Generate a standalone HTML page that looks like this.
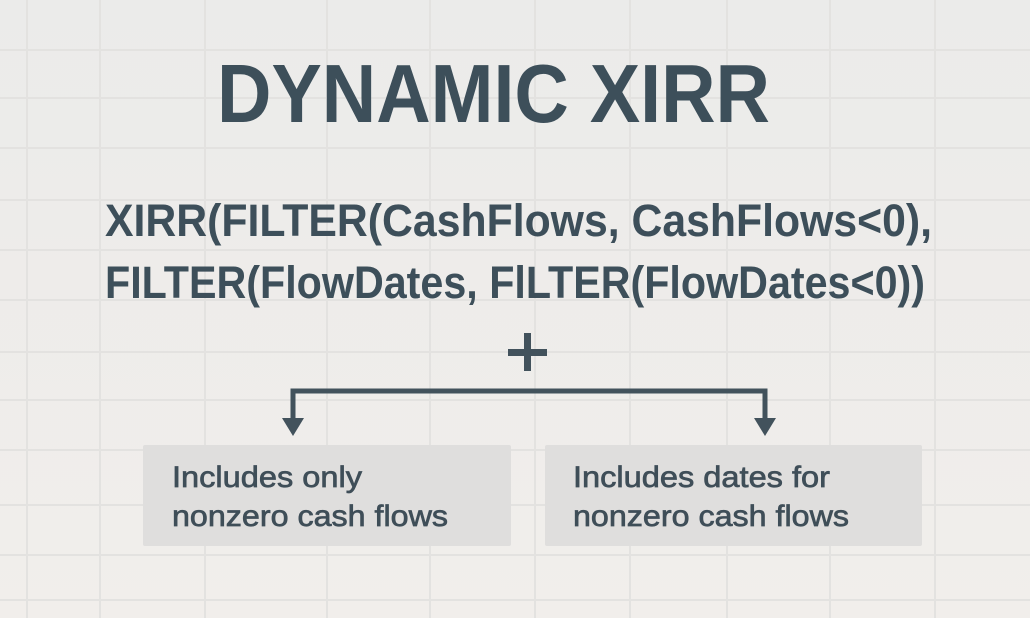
<!DOCTYPE html>
<html><head><meta charset="utf-8"><style>
html,body{margin:0;padding:0;background:#efedeb;}
svg{display:block;}
</style></head><body>
<svg width="1030" height="618" viewBox="0 0 1030 618" xmlns="http://www.w3.org/2000/svg">
<defs><linearGradient id="bg" x1="0" y1="0" x2="0" y2="1"><stop offset="0" stop-color="#ebebea"/><stop offset="1" stop-color="#f1eeeb"/></linearGradient></defs>
<rect width="1030" height="618" fill="url(#bg)"/>
<g stroke="#e3e2e0" stroke-width="2">
<line x1="27" y1="0" x2="27" y2="618"/><line x1="100" y1="0" x2="100" y2="618"/><line x1="205" y1="0" x2="205" y2="618"/><line x1="327" y1="0" x2="327" y2="618"/><line x1="430" y1="0" x2="430" y2="618"/><line x1="535" y1="0" x2="535" y2="618"/><line x1="630" y1="0" x2="630" y2="618"/><line x1="727" y1="0" x2="727" y2="618"/><line x1="830" y1="0" x2="830" y2="618"/><line x1="935" y1="0" x2="935" y2="618"/>
<line x1="0" y1="50" x2="1030" y2="50"/><line x1="0" y1="98" x2="1030" y2="98"/><line x1="0" y1="148" x2="1030" y2="148"/><line x1="0" y1="200" x2="1030" y2="200"/><line x1="0" y1="250" x2="1030" y2="250"/><line x1="0" y1="300" x2="1030" y2="300"/><line x1="0" y1="352" x2="1030" y2="352"/><line x1="0" y1="400" x2="1030" y2="400"/><line x1="0" y1="450" x2="1030" y2="450"/><line x1="0" y1="505" x2="1030" y2="505"/><line x1="0" y1="555" x2="1030" y2="555"/><line x1="0" y1="600" x2="1030" y2="600"/>
</g>
<g fill="#3d4f5a" font-family="Liberation Sans, sans-serif" font-weight="bold">
<text x="217" y="122" font-size="83" textLength="553" lengthAdjust="spacingAndGlyphs">DYNAMIC XIRR</text>
<text x="105" y="236" font-size="45" textLength="827" lengthAdjust="spacingAndGlyphs">XIRR(FILTER(CashFlows, CashFlows&lt;0),</text>
<text x="105" y="298" font-size="45" textLength="820" lengthAdjust="spacingAndGlyphs">FILTER(FlowDates, FlLTER(FlowDates&lt;0))</text>
</g>
<g fill="#42525c">
<rect x="524" y="333" width="7" height="38"/>
<rect x="508" y="349" width="39" height="7"/>
</g>
<g stroke="#42525c" stroke-width="5" fill="none">
<polyline points="293,422 293,391 765,391 765,422"/>
</g>
<g fill="#42525c">
<polygon points="282,418 304,418 293,436"/>
<polygon points="754,418 776,418 765,436"/>
</g>
<rect x="143" y="445" width="368" height="101" rx="2" fill="#dfdedd"/>
<rect x="545" y="445" width="377" height="101" rx="2" fill="#dfdedd"/>
<g fill="#3f4e58" stroke="#3f4e58" stroke-width="0.7" font-family="Liberation Sans, sans-serif" font-size="30">
<text x="172" y="487" textLength="190" lengthAdjust="spacingAndGlyphs">Includes only</text>
<text x="172" y="526" textLength="276" lengthAdjust="spacingAndGlyphs">nonzero cash flows</text>
<text x="573" y="487" textLength="257" lengthAdjust="spacingAndGlyphs">Includes dates for</text>
<text x="573" y="526" textLength="276" lengthAdjust="spacingAndGlyphs">nonzero cash flows</text>
</g>
</svg>
</body></html>
